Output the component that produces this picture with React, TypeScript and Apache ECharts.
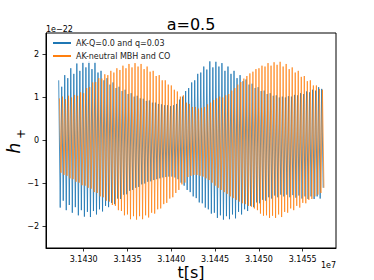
import React, { useEffect, useRef } from "react";
import * as echarts from "echarts";

// time grid of the waveform samples (seconds)
const startTime = 31427150;
const cyclePeriod = 345;

// per-cycle peak values, units of 1e-22
const blueMax = [
  1.40, 1.25, 1.52, 1.45, 1.68, 1.55, 1.79, 1.62, 1.82, 1.70, 1.84, 1.66, 1.83, 1.58, 1.62, 1.40,
  1.45, 1.30, 1.35, 1.22, 1.25, 1.15, 1.18, 1.08, 1.10, 1.02, 1.04, 0.98, 0.97, 0.92, 0.93, 0.88,
  0.88, 0.85, 0.84, 0.82, 0.82, 0.80, 0.82, 0.85, 0.95, 1.02, 1.15, 1.22, 1.35, 1.40, 1.55, 1.58,
  1.72, 1.65, 1.84, 1.70, 1.83, 1.72, 1.80, 1.62, 1.72, 1.55, 1.62, 1.45, 1.52, 1.38, 1.42, 1.30,
  1.32, 1.22, 1.24, 1.15, 1.16, 1.08, 1.10, 1.04, 1.05, 1.00, 1.02, 1.00, 1.03, 1.02, 1.06, 1.05,
  1.10, 1.08, 1.14, 1.12, 1.18, 1.16, 1.24, 1.20,
];
const blueMin = [
  -1.56, -1.40, -1.62, -1.50, -1.68, -1.55, -1.74, -1.62, -1.77, -1.66, -1.78, -1.64, -1.72, -1.60, -1.65, -1.52,
  -1.55, -1.45, -1.48, -1.35, -1.36, -1.26, -1.25, -1.17, -1.15, -1.10, -1.08, -1.02, -1.00, -0.96, -0.95, -0.92,
  -0.90, -0.88, -0.86, -0.85, -0.84, -0.84, -0.86, -0.90, -0.98, -1.05, -1.15, -1.20, -1.30, -1.34, -1.44, -1.46,
  -1.56, -1.60, -1.70, -1.68, -1.80, -1.74, -1.84, -1.76, -1.83, -1.72, -1.81, -1.66, -1.72, -1.60, -1.64, -1.52,
  -1.55, -1.44, -1.46, -1.38, -1.40, -1.32, -1.35, -1.28, -1.32, -1.26, -1.30, -1.26, -1.32, -1.27, -1.33, -1.28,
  -1.35, -1.30, -1.36, -1.30, -1.36, -1.30, -1.35, -1.10,
];
const orangeMax = [
  0.98, 1.02, 0.96, 1.04, 1.00, 1.06, 1.04, 1.12, 1.10, 1.22, 1.24, 1.35, 1.36, 1.45, 1.44, 1.54,
  1.52, 1.62, 1.58, 1.68, 1.64, 1.74, 1.68, 1.78, 1.70, 1.80, 1.72, 1.78, 1.66, 1.72, 1.60, 1.62,
  1.50, 1.52, 1.40, 1.40, 1.30, 1.28, 1.18, 1.14, 1.02, 1.05, 0.88, 0.85, 0.78, 0.78, 0.74, 0.76,
  0.78, 0.84, 0.88, 0.94, 0.98, 1.02, 1.00, 1.05, 1.08, 1.16, 1.22, 1.30, 1.36, 1.44, 1.50, 1.56,
  1.60, 1.66, 1.68, 1.74, 1.72, 1.80, 1.74, 1.82, 1.76, 1.83, 1.72, 1.78, 1.66, 1.70, 1.58, 1.62,
  1.48, 1.50, 1.38, 1.40, 1.28, 1.28, 1.20, 1.18,
];
const orangeMin = [
  -0.75, -0.80, -0.82, -0.88, -0.90, -0.96, -0.98, -1.04, -1.05, -1.10, -1.12, -1.20, -1.22, -1.30, -1.32, -1.40,
  -1.42, -1.50, -1.52, -1.62, -1.64, -1.74, -1.72, -1.83, -1.76, -1.84, -1.76, -1.83, -1.74, -1.79, -1.68, -1.70,
  -1.60, -1.58, -1.48, -1.45, -1.35, -1.32, -1.22, -1.15, -1.02, -0.98, -0.85, -0.82, -0.80, -0.80, -0.82, -0.84,
  -0.88, -0.92, -0.98, -1.05, -1.10, -1.15, -1.20, -1.24, -1.30, -1.34, -1.38, -1.42, -1.46, -1.48, -1.52, -1.54,
  -1.58, -1.62, -1.70, -1.75, -1.74, -1.80, -1.75, -1.80, -1.72, -1.78, -1.66, -1.68, -1.58, -1.62, -1.52, -1.56,
  -1.45, -1.46, -1.38, -1.36, -1.30, -1.26, -1.22, -1.10,
];

const seriesNames = ["AK-Q=0.0 and q=0.03", "AK-neutral MBH and CO"];
const xTicks = [31430000, 31435000, 31440000, 31445000, 31450000, 31455000];
const yTicks = [-2, -1, 0, 1, 2];

const FONT = "DejaVu Sans";

function buildSeries(maxs: number[], mins: number[], offset: number) {
  const out: number[][] = [];
  for (let i = 0; i < maxs.length; i++) {
    out.push([startTime + (i + offset) * cyclePeriod, maxs[i]]);
    out.push([startTime + (i + offset + 0.5) * cyclePeriod, mins[i]]);
  }
  return out;
}

export default function App() {
  const ref = useRef<HTMLDivElement>(null);
  useEffect(() => {
    if (!ref.current) return;
    const chart = echarts.init(ref.current, null, { renderer: "svg" });
    chart.setOption({
      animation: false,
      backgroundColor: "#fff",
      grid: {
        left: 46,
        right: 38,
        top: 33,
        bottom: 32,
        show: true,
        borderColor: "#000",
        borderWidth: 1,
        backgroundColor: "transparent",
      },
      legend: {
        orient: "vertical",
        left: 50,
        top: 36,
        itemWidth: 18,
        itemHeight: 2,
        itemGap: 3,
        icon: "rect",
        padding: [2, 4, 2, 3],
        backgroundColor: "rgba(255,255,255,0.8)",
        textStyle: { fontFamily: FONT, fontSize: 8, color: "#222", lineHeight: 10 },
        data: seriesNames,
        z: 10,
      },
      xAxis: {
        type: "value",
        min: 31425700,
        max: 31458800,
        axisLine: { show: true, onZero: false, lineStyle: { color: "#000", width: 1 } },
        axisTick: { show: true, length: 3.5, customValues: xTicks, lineStyle: { color: "#000", width: 0.8 } },
        axisLabel: {
          customValues: xTicks,
          margin: 7,
          fontFamily: FONT,
          fontSize: 8,
          color: "#000",
          formatter: (v: number) => (v / 1e7).toFixed(4),
        },
        splitLine: { show: false },
      },
      yAxis: {
        type: "value",
        min: -2.5,
        max: 2.5,
        axisLine: { show: true, onZero: false, lineStyle: { color: "#000", width: 1 } },
        axisTick: { show: true, length: 3.5, customValues: yTicks, lineStyle: { color: "#000", width: 0.8 } },
        axisLabel: {
          customValues: yTicks,
          margin: 7,
          fontFamily: FONT,
          fontSize: 8,
          color: "#000",
          formatter: (v: number) => (v < 0 ? "\u2212" + Math.abs(v) : String(v)),
        },
        splitLine: { show: false },
      },
      series: [
        {
          name: seriesNames[0],
          type: "line",
          showSymbol: false,
          symbol: "none",
          color: "#1f77b4",
          lineStyle: { width: 0.9, color: "#1f77b4", opacity: 0.9 },
          data: buildSeries(blueMax, blueMin, 0),
          z: 2,
        },
        {
          name: seriesNames[1],
          type: "line",
          showSymbol: false,
          symbol: "none",
          color: "#ff7f0e",
          lineStyle: { width: 0.9, color: "#ff7f0e", opacity: 0.8 },
          data: buildSeries(orangeMax, orangeMin, 0.25),
          z: 3,
        },
      ],
      graphic: [
        {
          type: "text",
          x: 191,
          y: 24,
          style: { text: "a=0.5", font: `16px '${FONT}'`, fill: "#000", align: "center", verticalAlign: "middle" },
        },
        {
          type: "text",
          x: 46,
          y: 29,
          style: { text: "1e\u221222", font: `8px '${FONT}'`, fill: "#000", align: "left", verticalAlign: "middle" },
        },
        {
          type: "text",
          x: 336,
          y: 265,
          style: { text: "1e7", font: `8px '${FONT}'`, fill: "#000", align: "right", verticalAlign: "middle" },
        },
        {
          type: "text",
          x: 191,
          y: 272,
          style: { text: "t[s]", font: `16px '${FONT}'`, fill: "#000", align: "center", verticalAlign: "middle" },
        },
        {
          type: "group",
          x: 16,
          y: 142,
          rotation: Math.PI / 2,
          children: [
            {
              type: "text",
              x: -6,
              y: -2,
              style: { text: "h", font: `italic 17px '${FONT}'`, fill: "#000", align: "center", verticalAlign: "middle" },
            },
            {
              type: "text",
              x: 8,
              y: 5,
              style: { text: "+", font: `12px '${FONT}'`, fill: "#000", align: "center", verticalAlign: "middle" },
            },
          ],
        },
      ],
    });
    return () => chart.dispose();
  }, []);
  return (
    <div
      ref={ref}
      style={{ position: "fixed", left: 0, top: 0, width: 374, height: 280 }}
    />
  );
}
